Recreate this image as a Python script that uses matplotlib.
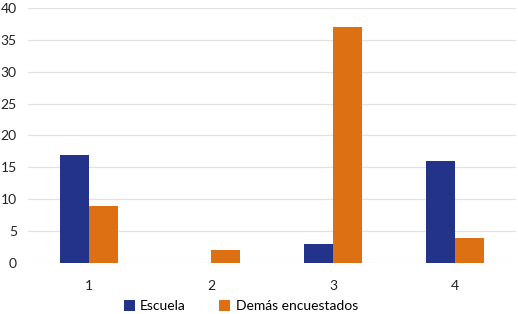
import numpy as np
from matplotlib import pyplot as plt

categories = ['1', '2', '3', '4']
escuela = [17, 0, 3, 16]
demas = [9, 2, 37, 4]

plt.rcParams['font.family'] = ['Lato', 'DejaVu Sans']

fig = plt.figure(figsize=(5.18, 3.14), dpi=100)
ax = fig.add_axes([0.054, 0.162, 0.942, 0.813])

x = np.arange(len(categories))
width = 0.24
ax.bar(x - width / 2, escuela, width, color='#24338a', label='Escuela', zorder=3)
ax.bar(x + width / 2, demas, width, color='#dd7013', label='Demás encuestados', zorder=3)

ax.set_xlim(-0.5, 3.5)
ax.set_ylim(0, 40)
ax.set_yticks(range(0, 41, 5))
ax.set_xticks(x)
ax.set_xticklabels(categories)
ax.yaxis.grid(True, color='#e2e2e2', linewidth=0.9, zorder=0)
for s in ax.spines.values():
    s.set_visible(False)
ax.tick_params(axis='both', length=0, labelsize=10, colors='#222222')
ax.tick_params(axis='x', pad=12)
ax.tick_params(axis='y', pad=8)

fig.legend(loc='lower center', bbox_to_anchor=(0.465, -0.035), ncol=2, frameon=False,
           fontsize=10, handlelength=0.8, handleheight=0.8, columnspacing=2.4,
           handletextpad=0.4)

fig.savefig('out.png', dpi=100)
